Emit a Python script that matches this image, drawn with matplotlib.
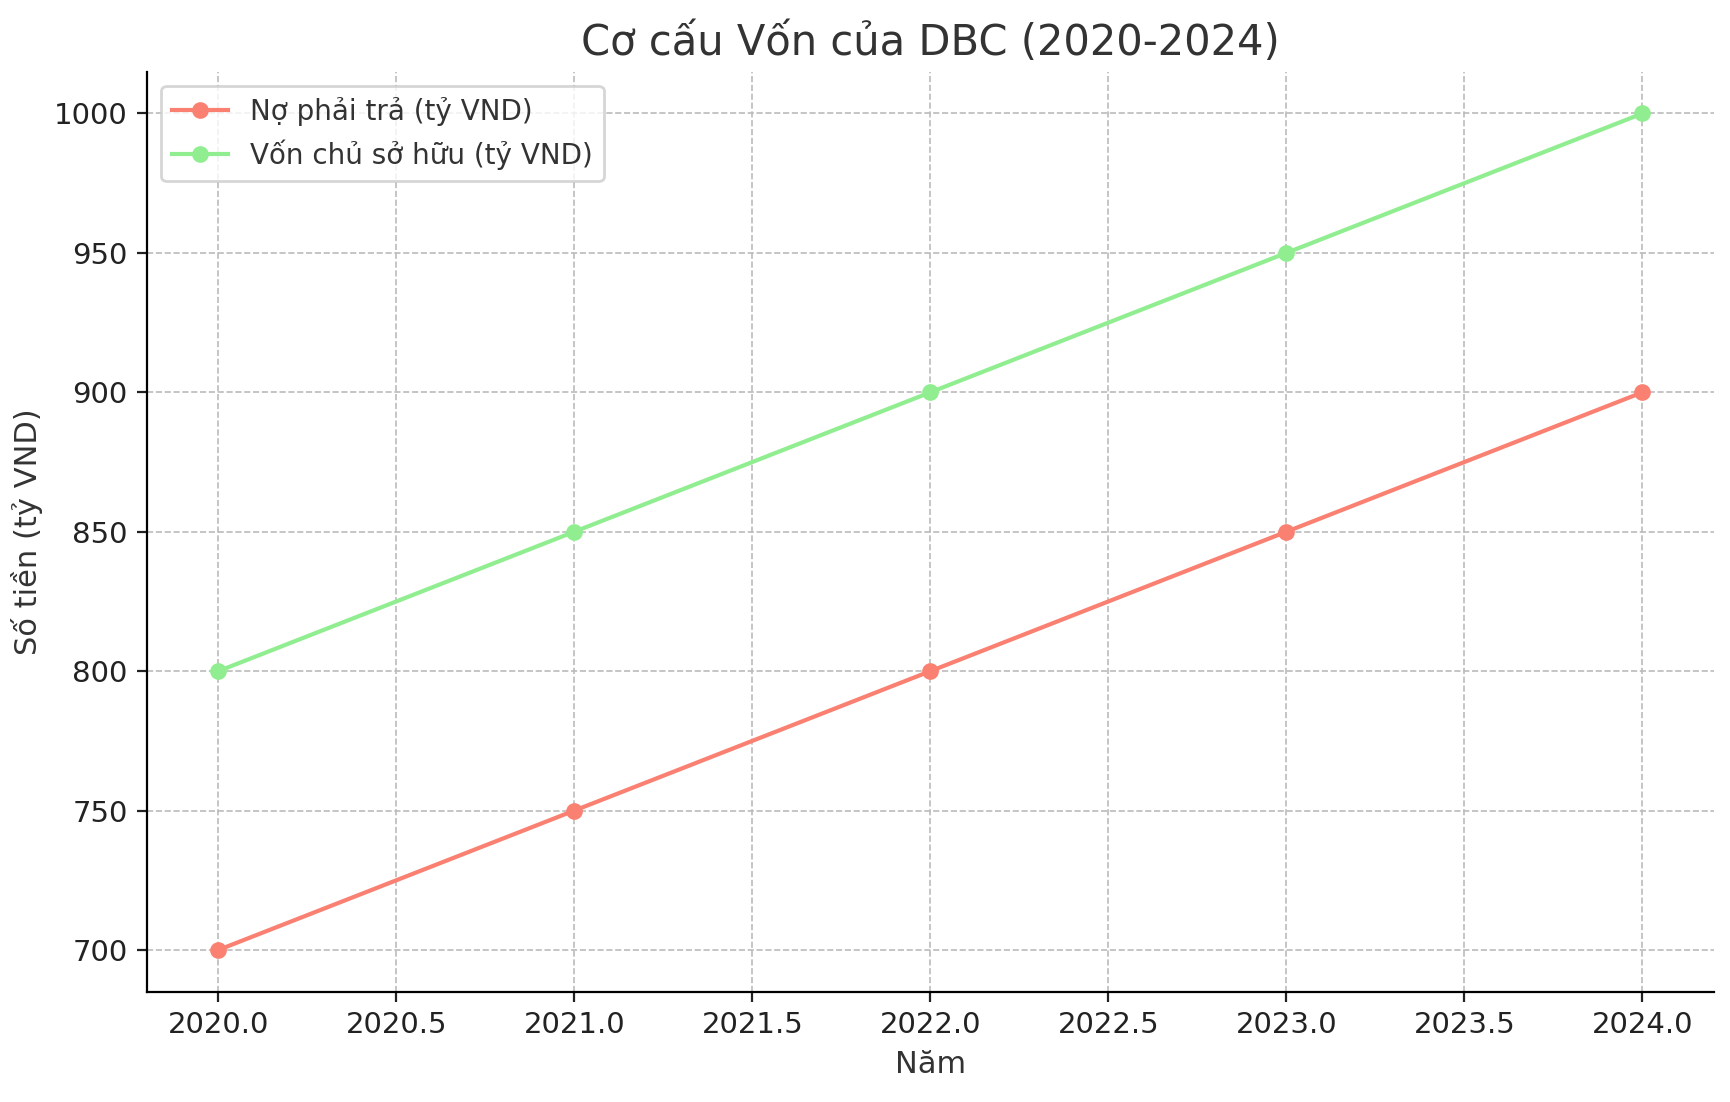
import matplotlib
matplotlib.use("Agg")
import matplotlib.pyplot as plt

years = [2020, 2021, 2022, 2023, 2024]
no_phai_tra = [700, 750, 800, 850, 900]
von_chu_so_huu = [800, 850, 900, 950, 1000]

plt.rcParams['font.family'] = ['DejaVu Sans']
fig, ax = plt.subplots(figsize=(8.655, 5.51), dpi=200)
ax.plot(years, no_phai_tra, marker='o', color='salmon', linewidth=1.5, markersize=5, label='Nợ phải trả (tỷ VND)')
ax.plot(years, von_chu_so_huu, marker='o', color='lightgreen', linewidth=1.5, markersize=5, label='Vốn chủ sở hữu (tỷ VND)')
ax.set_title('Cơ cấu Vốn của DBC (2020-2024)', fontsize=15, color='#333333')
ax.set_xlabel('Năm', fontsize=11, color='#333333')
ax.set_ylabel('Số tiền (tỷ VND)', fontsize=11, color='#333333')
ax.tick_params(labelsize=10.5, colors='#222222')
ax.grid(True, linestyle='--', color='#bbbbbb', linewidth=0.6)
ax.spines['top'].set_visible(False)
ax.spines['right'].set_visible(False)
leg = ax.legend(loc='upper left', fontsize=10)
for t in leg.get_texts():
    t.set_color('#333333')
fig.subplots_adjust(left=0.085, right=0.99, top=0.935, bottom=0.1)
fig.savefig('out.png', dpi=200)
